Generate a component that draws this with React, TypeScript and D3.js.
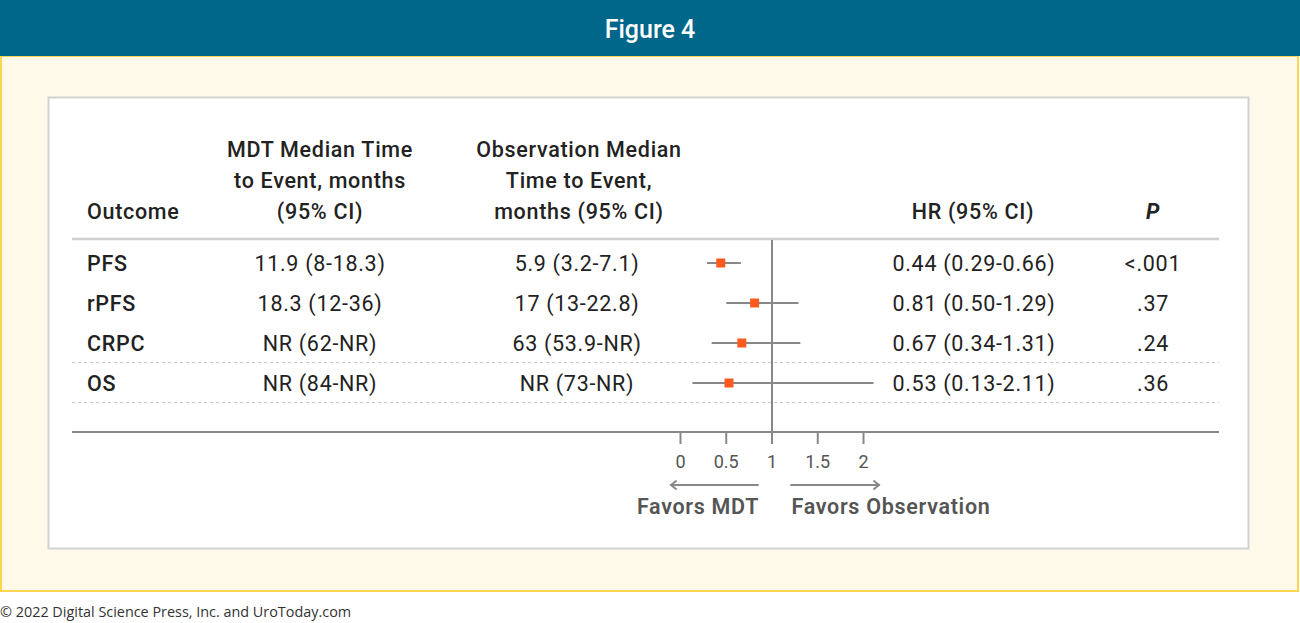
import React from "react";
import * as d3 from "d3";

const outcomes = ["PFS", "rPFS", "CRPC", "OS"];
const mdtMedian = ["11.9 (8-18.3)", "18.3 (12-36)", "NR (62-NR)", "NR (84-NR)"];
const obsMedian = ["5.9 (3.2-7.1)", "17 (13-22.8)", "63 (53.9-NR)", "NR (73-NR)"];
const hr = [0.44, 0.81, 0.67, 0.53];
const hrLow = [0.29, 0.5, 0.34, 0.13];
const hrHigh = [0.66, 1.29, 1.31, 2.11];
const hrLabels = ["0.44 (0.29-0.66)", "0.81 (0.50-1.29)", "0.67 (0.34-1.31)", "0.53 (0.13-2.11)"];
const pValues = ["<.001", ".37", ".24", ".36"];
const ticks = [0, 0.5, 1, 1.5, 2];
const tickLabels = ["0", "0.5", "1", "1.5", "2"];

const W = 1300;
const H = 623;
const FONT = "Roboto, 'Open Sans', sans-serif";
const FS = 21.5;
const LS = 0.7;

export default function App() {
  const x = d3.scaleLinear().domain([0, 2]).range([680.5, 863.5]);
  const y = d3.scalePoint<string>().domain(outcomes).range([263, 383]);
  const dark = "#222";
  const gray = "#888";
  return (
    <svg width={W} height={H} style={{ position: "absolute", left: 0, top: 0, display: "block" }} fontFamily={FONT}>
      <rect x={0} y={0} width={W} height={H} fill="#fff" />
      {/* cream area with yellow border */}
      <rect x={1} y={56} width={1297} height={535} fill="#FFF9EA" stroke="#FFD551" strokeWidth={2} />
      {/* header bar */}
      <rect x={0} y={0} width={W} height={56} fill="#00668A" />
      <text x={650} y={38} textAnchor="middle" fill="#fff" fontSize={25} fontWeight={500}>Figure 4</text>
      {/* white panel */}
      <rect x={48.5} y={97.5} width={1200} height={451} fill="#fff" stroke="#D2D2D2" strokeWidth={2} />

      {/* column headers */}
      <g fill={dark} fontSize={FS} fontWeight={500} letterSpacing={LS}>
        <text x={87} y={219}>Outcome</text>
        <text x={320} y={157} textAnchor="middle">MDT Median Time</text>
        <text x={320} y={188} textAnchor="middle">to Event, months</text>
        <text x={320} y={219} textAnchor="middle">(95% CI)</text>
        <text x={579} y={157} textAnchor="middle">Observation Median</text>
        <text x={579} y={188} textAnchor="middle">Time to Event,</text>
        <text x={579} y={219} textAnchor="middle">months (95% CI)</text>
        <text x={973} y={219} textAnchor="middle">HR (95% CI)</text>
        <text x={1153} y={219} textAnchor="middle" fontStyle="italic" fontWeight={700}>P</text>
      </g>
      <line x1={72} x2={1219} y1={239} y2={239} stroke="#CFCFCF" strokeWidth={2.5} />

      {/* dotted separators */}
      {[362, 402].map((yy) => (
        <line key={yy} x1={72} x2={1219} y1={yy + 0.5} y2={yy + 0.5} stroke="#C8C8C8" strokeWidth={1} strokeDasharray="3,3" />
      ))}

      {/* rows */}
      {outcomes.map((o, i) => {
        const yy = y(o)!;
        return (
          <g key={o} fontSize={FS} fill={dark} letterSpacing={LS}>
            <text x={87} y={yy + 7.5} fontWeight={500}>{o}</text>
            <text x={320} y={yy + 7.5} textAnchor="middle">{mdtMedian[i]}</text>
            <text x={577} y={yy + 7.5} textAnchor="middle">{obsMedian[i]}</text>
            <text x={974} y={yy + 7.5} textAnchor="middle">{hrLabels[i]}</text>
            <text x={1153} y={yy + 7.5} textAnchor="middle">{pValues[i]}</text>
          </g>
        );
      })}

      {/* reference line */}
      <line x1={x(1)} x2={x(1)} y1={240} y2={432} stroke={gray} strokeWidth={2} />

      {/* CIs and markers */}
      {outcomes.map((o, i) => {
        const yy = y(o)!;
        return (
          <g key={o + "ci"}>
            <line x1={x(hrLow[i])} x2={x(hrHigh[i])} y1={yy} y2={yy} stroke={gray} strokeWidth={2} />
            <rect x={x(hr[i]) - 4.5} y={yy - 4.5} width={9} height={9} fill="#FF5A1E" />
          </g>
        );
      })}

      {/* axis */}
      <line x1={72} x2={1219} y1={432} y2={432} stroke={gray} strokeWidth={2} />
      {ticks.map((t, i) => (
        <g key={t}>
          <line x1={x(t)} x2={x(t)} y1={432} y2={444} stroke={gray} strokeWidth={2} />
          <text x={x(t)} y={468} textAnchor="middle" fontSize={18} fill="#555">{tickLabels[i]}</text>
        </g>
      ))}

      {/* arrows */}
      <g stroke={gray} strokeWidth={2} fill="none" strokeLinecap="round">
        <line x1={758} x2={671} y1={485} y2={485} />
        <polyline points="676,481 671,485 676,489" />
        <line x1={791} x2={879} y1={485} y2={485} />
        <polyline points="874,481 879,485 874,489" />
      </g>
      <g fontSize={FS} fontWeight={600} fill="#555" letterSpacing={LS}>
        <text x={698} y={514} textAnchor="middle">Favors MDT</text>
        <text x={891} y={514} textAnchor="middle">Favors Observation</text>
      </g>

      {/* footer */}
      <text x={0} y={617} fontSize={14.4} fill="#333" fontFamily="'Open Sans', sans-serif">© 2022 Digital Science Press, Inc. and UroToday.com</text>
    </svg>
  );
}
